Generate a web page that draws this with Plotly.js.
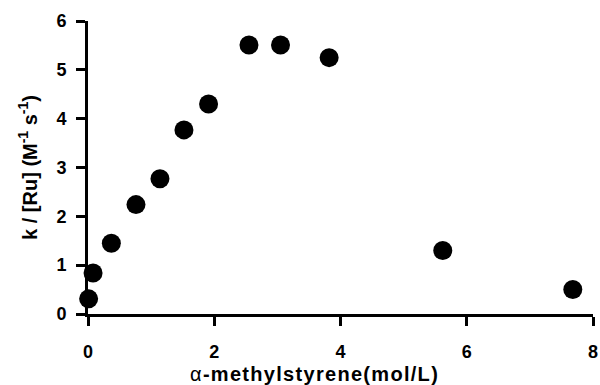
<!DOCTYPE html>
<html><head><meta charset="utf-8">
<script src="https://cdn.plot.ly/plotly-3.0.1.min.js"></script>
<style>html,body{margin:0;padding:0;background:#fff}#chart{width:600px;height:385px}.annotation-text{letter-spacing:1.3px}</style>
</head><body><div id="chart"></div>
<script>
const concentration = [0.01, 0.08, 0.37, 0.76, 1.14, 1.52, 1.91, 2.55, 3.05, 3.82, 5.62, 7.68];
const rateRu = [0.31, 0.84, 1.45, 2.24, 2.77, 3.77, 4.30, 5.51, 5.51, 5.25, 1.30, 0.50];
const xTicks = [0, 2, 4, 6, 8];
const yTicks = [0, 1, 2, 3, 4, 5, 6];

const FONT = 'Liberation Sans, Arial, sans-serif';
const trace = {
  x: concentration, y: rateRu, type: 'scatter', mode: 'markers',
  marker: {color: '#000', size: 19},
  cliponaxis: false, hoverinfo: 'x+y'
};
const layout = {
  width: 600, height: 385,
  margin: {l: 87.5, r: 6.5, t: 20.5, b: 70.5},
  paper_bgcolor: '#fff', plot_bgcolor: '#fff',
  showlegend: false,
  font: {family: FONT, color: '#000', size: 18, weight: 'bold'},
  xaxis: {
    range: [0, 8], tickvals: xTicks, ticktext: xTicks.map(String),
    showgrid: false, zeroline: false, showline: true, linecolor: '#000', linewidth: 3,
    ticks: 'outside', ticklen: 9, tickwidth: 3, tickcolor: '#000',
    ticklabelstandoff: 10,
    tickfont: {family: FONT, size: 18, weight: 'bold'}
  },
  yaxis: {
    range: [0, 6], tickvals: yTicks, ticktext: yTicks.map(String),
    showgrid: false, zeroline: false, showline: true, linecolor: '#000', linewidth: 3,
    ticks: 'outside', ticklen: 9, tickwidth: 3, tickcolor: '#000',
    ticklabelstandoff: 6,
    tickfont: {family: FONT, size: 18, weight: 'bold'},
    title: {text: 'k / [Ru] (M<sup>-1</sup> s<sup>-1</sup>)', font: {family: FONT, size: 20, weight: 'bold'}, standoff: 14}
  },
  annotations: [{
    text: '<span style="font-weight:normal">α</span>-methylstyrene(mol/L)',
    xref: 'paper', yref: 'paper', x: (314 - 87.5) / 506, y: 0, yshift: -59.5,
    xanchor: 'center', yanchor: 'middle', showarrow: false,
    font: {family: FONT, size: 20, weight: 'bold'}
  }]
};
Plotly.newPlot('chart', [trace], layout, {staticPlot: true});
</script></body></html>
